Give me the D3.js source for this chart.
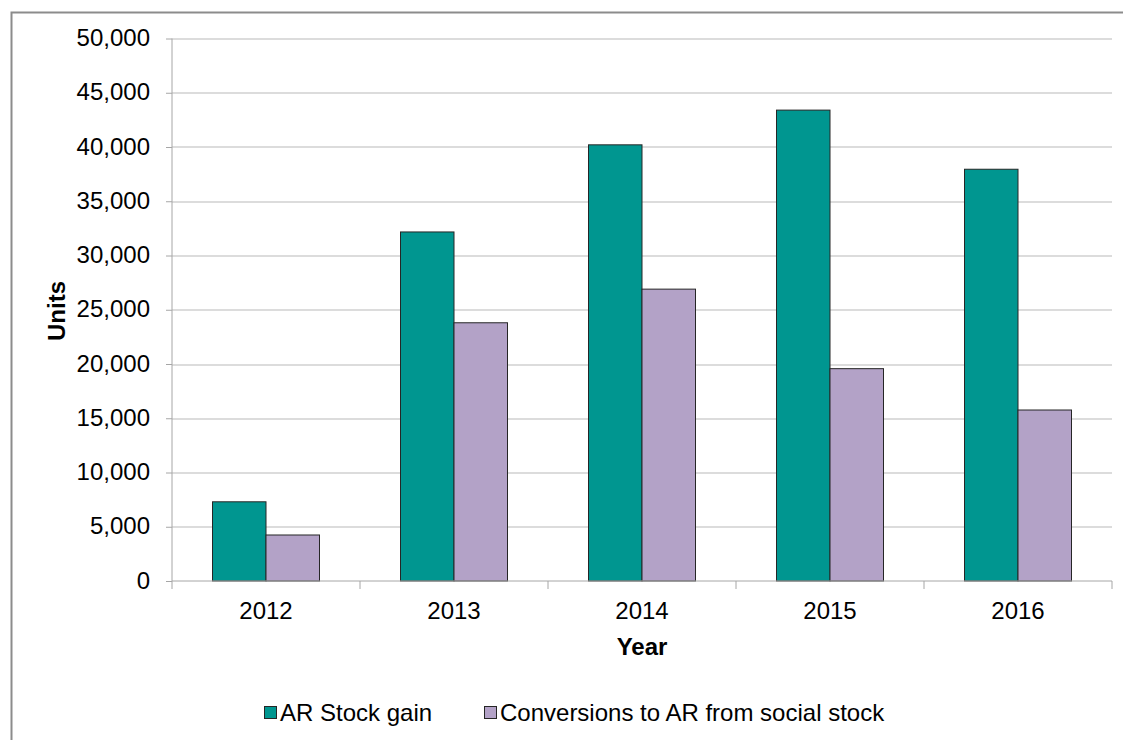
<!DOCTYPE html>
<html>
<head>
<meta charset="utf-8">
<script src="https://cdn.jsdelivr.net/npm/d3@7"></script>
<style>
  body { margin: 0; background: #fff; }
  text { font-family: "Liberation Sans", Arial, sans-serif; }
</style>
</head>
<body>
<svg></svg>
<script>
var years = ["2012", "2013", "2014", "2015", "2016"];
var seriesNames = ["AR Stock gain", "Conversions to AR from social stock"];
var stockGain = [7300, 32170, 40200, 43400, 37950];
var conversions = [4240, 23800, 26900, 19570, 15760];
var yTicks = [0, 5000, 10000, 15000, 20000, 25000, 30000, 35000, 40000, 45000, 50000];
var colors = ["#009690", "#b3a2c7"];

var svgWidth = 1123,
    svgHeight = 740,
    fontSize = 24;

var margin = {left: 172, right: 11, top: 38.5, bottom: 159};
var plotW = svgWidth - margin.left - margin.right,
    plotH = svgHeight - margin.top - margin.bottom;

var svg = d3.select("svg")
    .attr("width", svgWidth)
    .attr("height", svgHeight);

// outer chart frame
svg.append("rect")
    .attr("x", 11.5).attr("y", 12.5)
    .attr("width", svgWidth).attr("height", svgHeight)
    .attr("fill", "none")
    .attr("stroke", "#8c8c8c")
    .attr("stroke-width", 2);

var g = svg.append("g")
    .attr("transform", "translate(" + margin.left + "," + margin.top + ")");

var x0 = d3.scaleBand()
    .domain(years)
    .range([0, plotW]);

var x1 = d3.scaleBand()
    .domain([0, 1])
    .range([40.5, x0.bandwidth() - 40.5]);

var y = d3.scaleLinear()
    .domain([0, 50000])
    .range([plotH, 0]);

// gridlines
g.selectAll(".grid")
    .data(yTicks.slice(1))
    .enter()
    .append("line")
    .attr("x1", 0).attr("x2", plotW)
    .attr("y1", function (d) { return Math.round(y(d)) + 0.5; })
    .attr("y2", function (d) { return Math.round(y(d)) + 0.5; })
    .attr("stroke", "#d0d0d0")
    .attr("stroke-width", 1.5);

// bars
var groups = g.selectAll(".year")
    .data(years)
    .enter()
    .append("g")
    .attr("transform", function (d) { return "translate(" + x0(d) + ",0)"; });

groups.selectAll("rect")
    .data(function (d, i) { return [stockGain[i], conversions[i]]; })
    .enter()
    .append("rect")
    .attr("x", function (d, j) { return x1(j); })
    .attr("width", x1.bandwidth())
    .attr("y", function (d) { return y(d); })
    .attr("height", function (d) { return plotH - y(d); })
    .attr("fill", function (d, j) { return colors[j]; })
    .attr("stroke", "#262626")
    .attr("stroke-width", 1);

// y axis
var yAxis = g.append("g")
    .call(d3.axisLeft(y).tickValues(yTicks).tickSize(6).tickPadding(16)
        .tickFormat(d3.format(",")));
yAxis.select(".domain").attr("stroke", "#a6a6a6").attr("d", "M0,0V" + plotH);
yAxis.selectAll(".tick line").attr("stroke", "#a6a6a6");
yAxis.selectAll("text")
    .attr("font-size", fontSize)
    .attr("font-family", null)
    .attr("fill", "#000")
    .attr("x", -22)
    .attr("dy", "0.3em");

// x axis
var xAxis = g.append("g")
    .attr("transform", "translate(0," + plotH + ")")
    .call(d3.axisBottom(x0).tickSize(0));
xAxis.select(".domain").attr("stroke", "#a6a6a6").attr("d", "M0,0H" + plotW);
xAxis.selectAll("text")
    .attr("font-size", fontSize)
    .attr("font-family", null)
    .attr("fill", "#000")
    .attr("y", 38)
    .attr("dy", 0);

g.selectAll(".xtick")
    .data(years.concat(["end"]))
    .enter()
    .append("line")
    .attr("x1", function (d, i) { return i * x0.step(); })
    .attr("x2", function (d, i) { return i * x0.step(); })
    .attr("y1", plotH)
    .attr("y2", plotH + 8)
    .attr("stroke", "#a6a6a6");

// axis titles
svg.append("text")
    .attr("x", 642)
    .attr("y", 655)
    .attr("text-anchor", "middle")
    .attr("font-size", fontSize)
    .attr("font-weight", "bold")
    .text("Year");

svg.append("text")
    .attr("transform", "translate(65,311) rotate(-90)")
    .attr("text-anchor", "middle")
    .attr("font-size", fontSize)
    .attr("font-weight", "bold")
    .text("Units");

// legend
var legendX = [264, 484];
var legend = svg.selectAll(".legend")
    .data(seriesNames)
    .enter()
    .append("g")
    .attr("transform", function (d, i) { return "translate(" + legendX[i] + ",706)"; });

legend.append("rect")
    .attr("x", 0.5).attr("y", 0.5)
    .attr("width", 12).attr("height", 12)
    .attr("fill", function (d, i) { return colors[i]; })
    .attr("stroke", "#262626");

legend.append("text")
    .attr("x", 16)
    .attr("y", 15)
    .attr("font-size", fontSize)
    .text(function (d) { return d; });
</script>
</body>
</html>
